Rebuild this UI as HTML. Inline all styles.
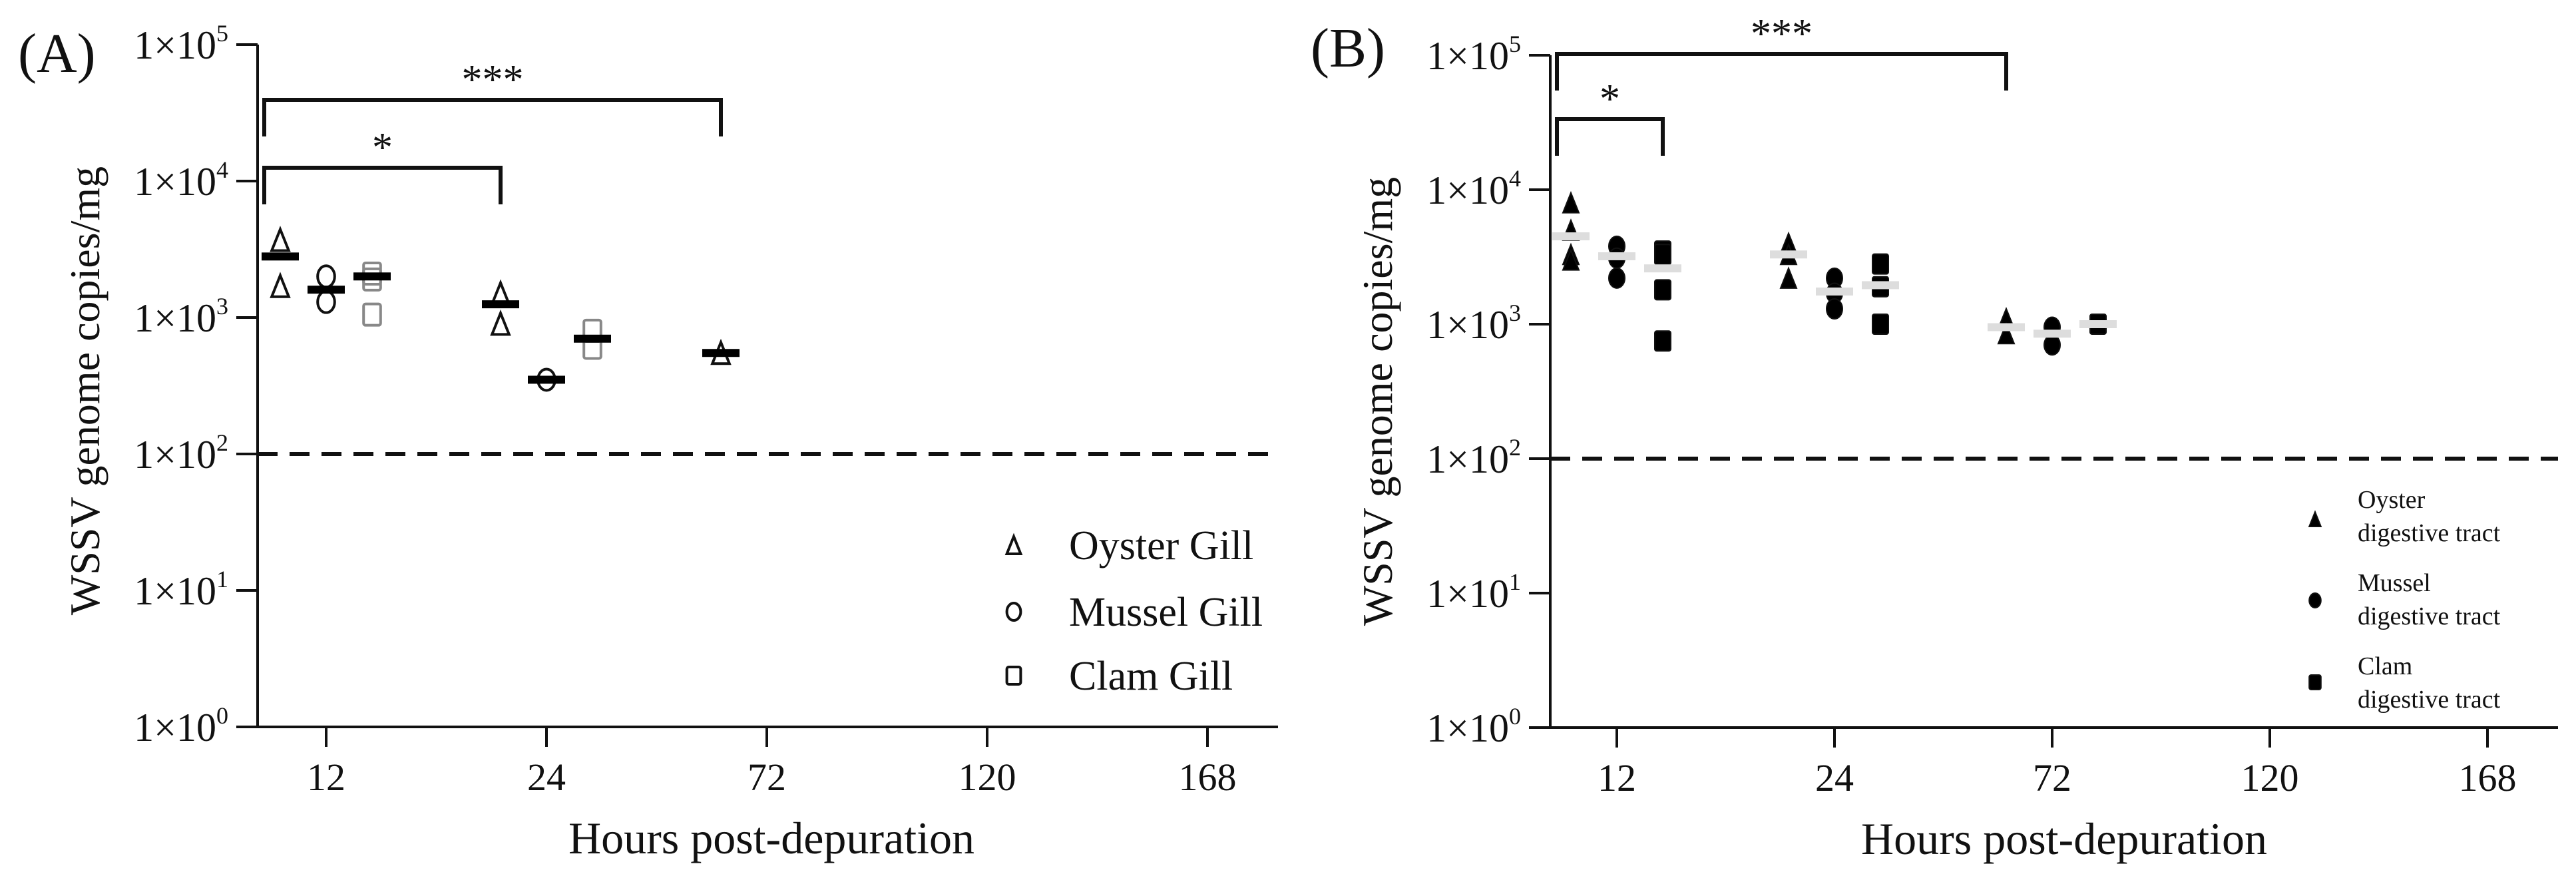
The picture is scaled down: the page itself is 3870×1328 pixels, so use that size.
<!DOCTYPE html>
<html><head><meta charset="utf-8"><style>
html,body{margin:0;padding:0;background:#fff}
svg{display:block}
text{font-family:"Liberation Serif",serif;fill:#111}
</style></head><body>
<svg id="fig" width="3870" height="1328" viewBox="0 0 3870 1328" xmlns="http://www.w3.org/2000/svg">
<g id="pA"></g>
<g id="pB"></g>
</svg>
<script>
// ---- data ----
const groupLabels = ["12","24","72","120","168"];
const yTickExps = [0,1,2,3,4,5];
// Panel A (gill) values, per group index [0,1,2]
const aOyster = [[3700,1700],[1500,900],[550]];
const aMussel = [[2000,1300],[350],[]];
const aClam = [[2100,1900,1050],[800,600],[]];
const aOysterMed = [2800,1250,550];
const aMusselMed = [1600,350,null];
const aClamMed = [2000,700,null];
// Panel B (digestive tract)
const bOyster = [[8000,5000,3300,3000],[4000,3300,2200],[1100,850]];
const bMussel = [[3800,3100,2200],[2200,1700,1300],[950,700]];
const bClam = [[3500,3300,1800,750],[2800,1900,1000],[1000]];
const bOysterMed = [4500,3300,950];
const bMusselMed = [3200,1750,850];
const bClamMed = [2600,1950,1000];
const detectionLimit = 100;

const NS="http://www.w3.org/2000/svg";
function mk(parent,tag,attrs){const e=document.createElementNS(NS,tag);for(const k in attrs)e.setAttribute(k,attrs[k]);parent.appendChild(e);return e;}

function panel(g,cfg){
  const ox=cfg.ox, top=cfg.top, dec=cfg.dec, y0=top+5*dec;
  const ys=v=>y0-Math.log10(v)*dec;
  const xs=i=>ox+cfg.x0+i*cfg.sp;
  const xEnd=ox+cfg.xLen;
  let e=mk(g,"line",{x1:ox,y1:top,x2:ox,y2:y0,stroke:"#111","stroke-width":4});
  
  
  e=mk(g,"line",{x1:ox-32,y1:y0,x2:xEnd,y2:y0,stroke:"#111","stroke-width":4});
  
  
  yTickExps.forEach(p=>{
    const y=ys(Math.pow(10,p));
    let t=mk(g,"line",{x1:ox-32,y1:y,x2:ox,y2:y,stroke:"#111","stroke-width":4});
    
    
    const tx=mk(g,"text",{x:ox-44,y:y+21,"text-anchor":"end","font-size":60});
    
    
    tx.textContent="1×10";
    const s=mk(tx,"tspan",{dy:-26,"font-size":36});s.textContent=String(p);
  });
  groupLabels.forEach((l,i)=>{
    const x=xs(i);
    let t=mk(g,"line",{x1:x,y1:y0,x2:x,y2:y0+30,stroke:"#111","stroke-width":4});
    
    
    const tx=mk(g,"text",{x:x,y:y0+95,"text-anchor":"middle","font-size":58});
    
    
    tx.textContent=l;
  });
  e=mk(g,"line",{x1:ox,y1:ys(detectionLimit),x2:xEnd,y2:ys(detectionLimit),stroke:"#111","stroke-width":6,"stroke-dasharray":"30 18"});
  
  
  e=mk(g,"text",{x:ox+772,y:y0+190,"text-anchor":"middle","font-size":68});
  
  
  e.textContent="Hours post-depuration";
  e=mk(g,"text",{x:0,y:0,"text-anchor":"middle","font-size":64,transform:`translate(${ox-238},${top+520}) rotate(-90)`});
  
  
  e.textContent="WSSV genome copies/mg";
  e=mk(g,"text",{x:ox-360,y:cfg.labelY,"font-size":84});
  
  
  e.textContent=cfg.label;
  cfg.brackets.forEach(b=>{
    const x1=ox+10, x2=xs(b.to)+b.off;
    const p=mk(g,"path",{d:`M${x1},${b.y+55} V${b.y} H${x2} V${b.y+55}`,fill:"none",stroke:"#111","stroke-width":6});
    
    
    const t=mk(g,"text",{x:(x1+x2)/2,y:b.y-10,"text-anchor":"middle","font-size":62});
    
    
    t.textContent=b.stars;
  });
  const shapes=["tri","circ","sq"];
  const offs=[-69,0,69];
  function marker(shape,x,y,fill,stroke,size){
    let m;
    const w=size*0.8,h=size;
    if(shape==="tri") m=mk(g,"polygon",{points:`${x},${y-h/2} ${x+w/2},${y+h/2} ${x-w/2},${y+h/2}`});
    else if(shape==="circ") m=mk(g,"ellipse",{cx:x,cy:y,rx:w/2,ry:h/2});
    else m=mk(g,"rect",{x:x-w/2,y:y-h/2,width:w,height:h,rx:3});
    m.setAttribute("fill",fill);m.setAttribute("stroke",stroke);m.setAttribute("stroke-width",fill==="none"?4:2);
    return m;
  }
  cfg.series.forEach((ser,si)=>{
    ser.vals.forEach((arr,gi)=>{
      arr.forEach(v=>{
        const m=marker(shapes[si],xs(gi)+offs[si],ys(v),cfg.filled?"#000":"none",si===2&&!cfg.filled?"#888":"#111",cfg.filled?30:32);
        
        
      });
      const md=ser.med[gi];
      if(md!=null){
        const r=mk(g,"rect",{x:xs(gi)+offs[si]-28,y:ys(md)-6,width:56,height:12,fill:cfg.filled?"#ddd":"#000"});
        
        
      }
    });
  });
  cfg.legend.forEach((L,i)=>{
    const m=marker(shapes[i],cfg.legX,L.my,cfg.filled?"#000":"none","#111",cfg.filled?22:26);
    
    
    L.lines.forEach((ln,j)=>{
      const t=mk(g,"text",{x:cfg.legTX,y:L.ty+j*cfg.legLH,"font-size":cfg.legFS});
      
      
      t.textContent=ln;
    });
  });
}

panel(document.getElementById("pA"),{ox:387,top:67,dec:205,x0:103,sp:331,xLen:1533,label:"(A)",labelY:108,filled:false,
  series:[{vals:aOyster,med:aOysterMed},{vals:aMussel,med:aMusselMed},{vals:aClam,med:aClamMed}],
  brackets:[{y:150,to:2,off:-69,stars:"***"},{y:252,to:1,off:-69,stars:"*"}],
  legX:1523,legTX:1606,legFS:62,legLH:0,
  legend:[{my:819,ty:840,lines:["Oyster Gill"]},{my:919,ty:940,lines:["Mussel Gill"]},{my:1015,ty:1036,lines:["Clam Gill"]}]
});
panel(document.getElementById("pB"),{ox:2329,top:83,dec:202,x0:100,sp:327,xLen:1514,label:"(B)",labelY:100,filled:true,
  series:[{vals:bOyster,med:bOysterMed},{vals:bMussel,med:bMusselMed},{vals:bClam,med:bClamMed}],
  brackets:[{y:81,to:2,off:-69,stars:"***"},{y:179,to:0,off:69,stars:"*"}],
  legX:3478,legTX:3542,legFS:38,legLH:50,
  legend:[{my:780,ty:763,lines:["Oyster","digestive tract"]},{my:902,ty:888,lines:["Mussel","digestive tract"]},{my:1025,ty:1013,lines:["Clam","digestive tract"]}]
});
</script>
</body></html>
